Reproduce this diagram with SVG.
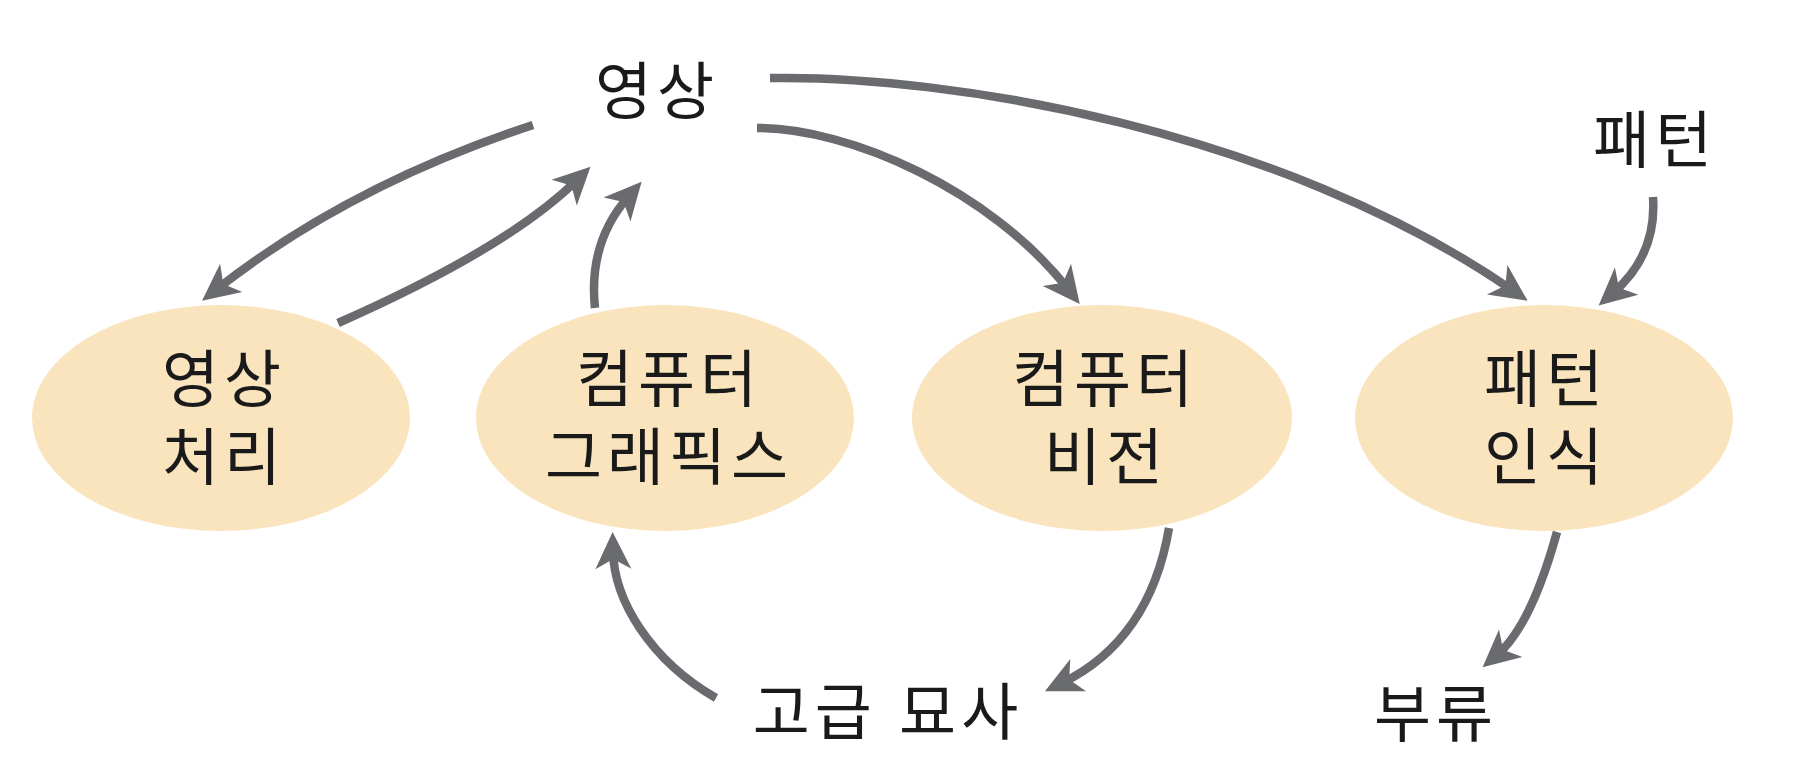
<svg xmlns="http://www.w3.org/2000/svg" width="1797" height="759" viewBox="0 0 1797 759">
<style>
.node ellipse{fill:#fae4bd;}
text{font-family:"Liberation Sans","Noto Sans CJK KR",sans-serif;font-size:62px;fill:#1a1a1a;text-anchor:middle;letter-spacing:5px;}
.conn path{fill:none;stroke:#6a6b6e;stroke-width:8.5;marker-end:url(#ah);}
</style>
<defs>
<marker id="ah" markerUnits="userSpaceOnUse" viewBox="-25 -25 50 50" markerWidth="50" markerHeight="50" refX="0" refY="0" orient="auto">
<path d="M19,0 L-18,-18 L-8,0 L-18,18 Z" fill="#6a6b6e"/>
</marker>
</defs>
<rect width="1797" height="759" fill="#ffffff"/>
<g id="n-image-processing" class="node"><ellipse cx="221" cy="418" rx="189" ry="113"/><text x="224" y="402">영상</text><text x="224" y="480">처리</text></g>
<g id="n-graphics" class="node"><ellipse cx="665" cy="418" rx="189" ry="113"/><text x="669" y="402">컴퓨터</text><text x="669" y="480">그래픽스</text></g>
<g id="n-vision" class="node"><ellipse cx="1102" cy="418" rx="190" ry="113"/><text x="1105" y="402">컴퓨터</text><text x="1106" y="480">비전</text></g>
<g id="n-pattern-recog" class="node"><ellipse cx="1544" cy="418" rx="189" ry="113"/><text x="1546" y="402">패턴</text><text x="1546" y="480">인식</text></g>
<g id="n-image" class="node"><text x="657" y="114">영상</text></g>
<g id="n-pattern" class="node"><text x="1655" y="163">패턴</text></g>
<g id="n-description" class="node"><text x="888" y="735">고급 묘사</text></g>
<g id="n-class" class="node"><text x="1436" y="737">부류</text></g>
<g id="connectors" class="conn">
<path d="M533,125 Q350,185 217,289"/>
<path d="M338,323 Q508,248 577,180"/>
<path d="M595,308 Q588,242 629,196"/>
<path d="M757,128 C850,128 990,190 1068,289"/>
<path d="M770,78 C950,75 1280,130 1512,290"/>
<path d="M1653,197 Q1657,255 1613,293"/>
<path d="M1169,528 Q1150,640 1062,683"/>
<path d="M1557,532 Q1531,626 1497,655"/>
<path d="M716,698 C650,660 614,600 613,551"/>
</g>
</svg>
